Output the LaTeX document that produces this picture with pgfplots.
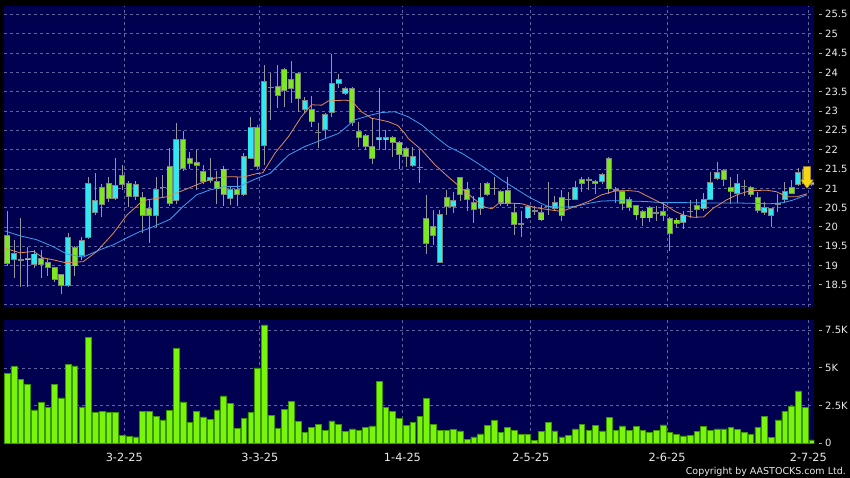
\documentclass[border=0pt]{standalone}
\usepackage{fontspec}
\setmainfont{DejaVu Sans}
\usepackage{pgfplots}
\usepackage{pgfplotstable}
\pgfplotsset{compat=1.18}
\definecolor{navy}{RGB}{0,0,80}
\definecolor{gridc}{RGB}{95,100,160}
\definecolor{cy}{RGB}{50,232,240}
\definecolor{gr}{RGB}{125,232,30}
\definecolor{edge}{RGB}{125,135,125}
\definecolor{wick}{RGB}{150,150,155}
\definecolor{vol}{RGB}{120,245,10}
\definecolor{voledge}{RGB}{60,150,0}
\definecolor{maO}{RGB}{225,140,90}
\definecolor{maB}{RGB}{60,160,240}
\definecolor{lab}{RGB}{235,235,235}
\definecolor{tickc}{RGB}{170,170,170}
\definecolor{arrowY}{RGB}{245,215,20}
\definecolor{arrowE}{RGB}{170,140,0}
\newcommand\tk{\textcolor{tickc}{\rule[3.3pt]{3pt}{0.8pt}}\hspace{3pt}}
\pgfdeclareplotmark{yarrow}{%
  \pgfpathmoveto{\pgfpoint{-3.6pt}{0pt}}%
  \pgfpathlineto{\pgfpoint{3.6pt}{0pt}}%
  \pgfpathlineto{\pgfpoint{3.6pt}{-13.3pt}}%
  \pgfpathlineto{\pgfpoint{6.2pt}{-13.3pt}}%
  \pgfpathlineto{\pgfpoint{0pt}{-21.6pt}}%
  \pgfpathlineto{\pgfpoint{-6.2pt}{-13.3pt}}%
  \pgfpathlineto{\pgfpoint{-3.6pt}{-13.3pt}}%
  \pgfpathclose
  \pgfusepathqfillstroke}

\pgfplotstableread{
i o h l c t
0 19.79 20.40 18.98 19.05 0
1 19.15 19.65 18.67 19.32 1
2 19.15 20.23 18.46 19.15 2
3 19.15 19.49 18.46 19.19 1
4 19.04 19.41 18.93 19.30 1
5 19.19 19.41 18.67 19.04 0
6 19.09 19.17 18.72 18.96 0
7 18.95 18.97 18.58 18.64 0
8 18.76 18.78 18.27 18.49 0
9 18.48 19.84 18.46 19.73 1
10 19.48 19.50 18.72 18.99 0
11 19.25 19.73 19.15 19.65 1
12 19.73 21.28 19.70 21.13 1
13 20.38 21.39 20.30 20.68 1
14 21.03 21.10 20.27 20.57 0
15 21.13 21.30 20.65 20.74 0
16 20.74 21.78 20.70 21.07 1
17 21.33 21.59 20.95 21.09 0
18 21.13 21.20 20.52 20.78 0
19 20.78 21.20 20.70 21.10 1
20 20.77 20.90 19.85 20.29 0
21 20.48 20.70 19.58 20.29 0
22 20.29 21.29 20.01 20.98 1
23 21.03 21.35 20.75 21.03 2
24 21.56 22.04 20.53 20.60 0
25 20.68 22.70 20.60 22.27 1
26 22.27 22.49 21.45 21.52 0
27 21.78 21.95 21.50 21.63 0
28 21.66 21.99 20.96 21.58 0
29 21.43 21.60 21.10 21.17 0
30 21.19 21.78 21.13 21.29 1
31 21.17 21.45 20.60 20.98 0
32 21.50 21.58 20.53 20.83 0
33 20.74 21.05 20.57 20.98 1
34 20.98 21.30 20.55 20.83 0
35 20.83 21.90 20.80 21.82 1
36 21.78 22.84 21.75 22.58 1
37 22.58 22.65 21.50 21.56 0
38 22.10 24.19 21.60 23.76 1
39 23.61 23.97 22.77 23.61 2
40 23.63 24.19 23.08 23.39 0
41 24.08 24.12 23.10 23.54 0
42 23.82 24.30 23.20 23.59 0
43 23.97 24.00 22.98 23.33 0
44 23.03 23.35 22.95 23.28 1
45 23.03 23.39 22.58 22.72 0
46 22.45 22.68 22.04 22.45 2
47 22.53 22.95 22.27 22.90 1
48 22.96 24.47 22.85 23.72 1
49 23.70 23.95 23.60 23.82 1
50 23.44 23.62 23.40 23.59 1
51 23.59 23.62 22.62 22.70 0
52 22.47 22.72 22.08 22.32 0
53 22.36 22.40 22.00 22.08 0
54 22.08 22.82 21.63 21.78 0
55 22.25 23.59 21.99 22.31 1
56 22.25 22.50 21.99 22.31 1
57 22.31 22.35 21.82 22.19 0
58 22.18 22.22 21.49 21.87 0
59 22.04 22.08 21.56 21.82 0
60 21.58 22.08 21.55 21.82 1
61 21.55 21.99 21.13 21.55 2
62 20.23 20.83 19.30 19.58 0
63 20.01 20.44 19.54 19.78 0
64 19.09 20.45 19.09 20.33 1
65 20.76 20.96 20.31 20.53 0
66 20.53 20.91 20.37 20.68 1
67 21.28 21.30 20.66 20.83 0
68 20.98 21.17 20.42 20.70 0
69 20.63 20.79 20.11 20.44 0
70 20.48 21.13 20.31 20.77 1
71 21.13 21.15 20.80 20.83 0
72 21.00 21.29 20.83 21.00 2
73 20.91 20.96 20.55 20.63 0
74 20.94 21.29 20.55 20.60 0
75 20.37 20.62 19.79 20.07 0
76 20.08 20.40 19.73 20.08 2
77 20.23 20.58 20.20 20.53 1
78 20.42 20.53 20.30 20.42 2
79 20.37 20.57 20.15 20.18 0
80 20.54 21.17 20.31 20.54 2
81 20.47 20.80 20.40 20.64 1
82 20.76 20.95 20.16 20.29 0
83 20.72 20.90 20.50 20.72 2
84 20.72 21.20 20.70 21.03 1
85 21.23 21.28 20.90 21.13 0
86 21.22 21.30 20.95 21.22 2
87 21.17 21.22 20.85 21.13 0
88 21.17 21.40 21.10 21.35 1
89 21.78 21.80 20.85 20.98 0
90 20.96 21.04 20.61 20.96 2
91 20.91 20.95 20.45 20.61 0
92 20.70 20.78 20.40 20.51 0
93 20.55 20.57 20.18 20.31 0
94 20.41 20.45 20.03 20.23 0
95 20.50 20.55 20.12 20.23 0
96 20.37 20.55 20.15 20.37 2
97 20.40 20.63 20.16 20.29 0
98 20.21 20.25 19.39 19.82 0
99 20.18 20.22 19.97 20.08 0
100 20.11 20.40 19.95 20.31 1
101 20.40 20.70 20.23 20.40 2
102 20.55 20.72 20.23 20.46 0
103 20.47 20.88 20.40 20.72 1
104 20.72 21.41 20.70 21.15 1
105 21.26 21.67 21.22 21.40 1
106 21.47 21.50 21.05 21.22 0
107 21.02 21.28 20.60 20.91 0
108 20.87 21.38 20.61 21.13 1
109 21.06 21.22 20.80 21.06 2
110 21.02 21.05 20.78 20.83 0
111 20.77 20.90 20.35 20.42 0
112 20.37 20.65 20.30 20.51 1
113 20.29 20.50 20.01 20.47 1
114 20.60 20.85 20.38 20.60 2
115 20.72 21.15 20.62 20.91 1
116 21.02 21.22 20.85 20.87 0
117 21.09 21.52 21.05 21.41 1
118 21.50 21.55 21.05 21.12 0
119 21.15 21.20 21.05 21.10 0
}\candles

\pgfplotstableread{
i v
0 4.65
1 5.08
2 4.25
3 3.91
4 2.21
5 2.70
6 2.36
7 3.91
8 3.01
9 5.24
10 5.13
11 2.41
12 7.05
13 2.03
14 2.14
15 2.05
16 2.05
17 0.55
18 0.46
19 0.42
20 2.12
21 2.12
22 1.81
23 1.55
24 2.17
25 6.32
26 2.74
27 1.41
28 2.14
29 1.75
30 1.61
31 2.21
32 3.14
33 2.67
34 0.97
35 1.66
36 2.03
37 5.00
38 7.85
39 1.83
40 1.01
41 2.25
42 2.76
43 1.46
44 0.73
45 1.04
46 1.26
47 0.88
48 1.48
49 1.26
50 0.80
51 0.95
52 0.88
53 1.04
54 1.15
55 4.09
56 2.36
57 2.14
58 1.66
59 1.17
60 1.37
61 1.77
62 2.99
63 1.26
64 0.88
65 0.88
66 0.93
67 0.82
68 0.27
69 0.42
70 0.62
71 1.19
72 1.50
73 0.73
74 1.08
75 0.86
76 0.60
77 0.60
78 0.17
79 0.80
80 1.37
81 0.82
82 0.42
83 0.50
84 0.95
85 1.26
86 0.86
87 1.17
88 0.82
89 1.72
90 0.84
91 1.15
92 0.88
93 1.10
94 0.84
95 0.73
96 0.88
97 1.22
98 0.71
99 0.60
100 0.49
101 0.55
102 0.77
103 1.10
104 0.84
105 0.95
106 0.95
107 1.04
108 0.93
109 0.71
110 0.60
111 1.08
112 1.81
113 0.37
114 1.55
115 2.14
116 2.43
117 3.47
118 2.36
119 0.22
}\volume

\begin{document}
\begin{tikzpicture}
\useasboundingbox (0,0) rectangle (850pt,478pt);
\fill[black] (0,0) rectangle (850pt,478pt);

\begin{axis}[
  at={(4pt,171pt)}, anchor=south west,
  width=810pt, height=301pt, scale only axis,
  xmin=-0.49, xmax=119.33, ymin=17.93, ymax=25.715,
  axis background/.style={fill=navy},
  axis line style={draw=none},
  xtick={17.3,37.35,58.45,77.43,97.6,118.5}, xticklabels={},
  ytick={18,18.5,19,19.5,20,20.5,21,21.5,22,22.5,23,23.5,24,24.5,25,25.5},
  yticklabels={{},\tk 18.5,\tk 19,\tk 19.5,\tk 20,\tk 20.5,\tk 21,\tk 21.5,\tk 22,\tk 22.5,\tk 23,\tk 23.5,\tk 24,\tk 24.5,\tk 25,\tk 25.5},
  yticklabel pos=right,
  major tick length=0pt,
  grid=major,
  major grid style={gridc, dash pattern=on 3pt off 3pt, line width=0.7pt},
  yticklabel style={anchor=west, inner sep=0pt, xshift=5pt, font=\fontsize{10}{12}\selectfont, text=lab},
]
% wicks
\addplot[draw=none, mark=none, forget plot,
  error bars/.cd, y dir=both, y explicit, error mark=none,
  error bar style={line width=1pt, draw=wick}]
  table[x=i, y expr={(\thisrow{h}+\thisrow{l})/2}, y error expr={(\thisrow{h}-\thisrow{l})/2}] {\candles};
% body outlines
\addplot[draw=none, mark=none, forget plot,
  error bars/.cd, y dir=both, y explicit, error mark=none,
  error bar style={line width=6pt, draw=edge}]
  table[x=i, y expr={(\thisrow{o}+\thisrow{c})/2}, y error expr={abs(\thisrow{c}-\thisrow{o})/2+0.011}] {\candles};
% cyan bodies (t = 1)
\addplot[draw=none, mark=none, forget plot,
  error bars/.cd, y dir=both, y explicit, error mark=none,
  error bar style={line width=4.4pt, draw=cy}]
  table[x=i, y expr={(\thisrow{o}+\thisrow{c})/2}, y error expr={(\thisrow{t}==1)*max(abs(\thisrow{c}-\thisrow{o})/2-0.012,0)}] {\candles};
% green bodies (t = 0)
\addplot[draw=none, mark=none, forget plot,
  error bars/.cd, y dir=both, y explicit, error mark=none,
  error bar style={line width=4.4pt, draw=gr}]
  table[x=i, y expr={(\thisrow{o}+\thisrow{c})/2}, y error expr={(\thisrow{t}==0)*max(abs(\thisrow{c}-\thisrow{o})/2-0.012,0)}] {\candles};
% moving averages
\addplot[maB, line width=0.8pt, mark=none] coordinates {
(-0.4,19.90) (1.9,19.77) (4.35,19.67) (6.8,19.49) (8.8,19.30) (11.2,19.22) (13.7,19.41) (15.7,19.54) (17.7,19.72) (19.6,19.88)
(21.1,19.97) (24.1,20.20) (26,20.53) (28,20.83) (30,20.96) (32,21.04) (34.4,21.05) (36.4,21.22) (38.9,21.39)
(41.6,21.86) (44,22.08) (46.5,22.25) (49,22.42) (51.4,22.77) (53.9,22.90) (55.4,22.96) (57.3,22.98) (59.3,22.85)
(61.3,22.64) (63.3,22.34) (65.2,22.08) (67.2,21.91) (69.2,21.69) (71.2,21.46) (73.1,21.22) (75.1,21.00) (77.1,20.78)
(79.1,20.60) (80,20.53) (82,20.51) (84,20.53) (86,20.61) (87.9,20.67) (89.9,20.68) (91.9,20.67) (94.3,20.66)
(96.8,20.63) (100.2,20.63) (103,20.62) (108,20.62) (112.8,20.60) (114.8,20.63) (116.3,20.70) (118.3,20.83)};
\addplot[maO, line width=0.8pt, mark=none] coordinates {
(-0.4,19.45) (1.9,19.33) (3.9,19.37) (5.3,19.20) (6.8,19.15) (8.5,19.08) (11.2,19.10) (13.2,19.36) (15.7,19.84) (17.7,20.31)
(19.6,20.61) (20.6,20.70) (23.6,20.78) (25.5,20.91) (28,21.09) (30.5,21.26) (32.9,21.30) (34.9,21.29) (36.9,21.38) (37.8,21.40)
(39.6,21.91) (41.6,22.34) (43.5,22.85) (45,23.16) (46.5,23.15) (47.5,23.26) (50,23.28) (51,23.25) (52.4,22.98) (53.9,22.81)
(54.9,22.78) (56.4,22.72) (57.8,22.62) (58.8,22.42) (59.3,22.29) (61.3,21.99) (63.3,21.60) (65.2,21.30) (67.2,21.00)
(69.2,20.70) (70.7,20.51) (71.7,20.47) (72.6,20.60) (74.1,20.62) (76.1,20.60) (78.1,20.50) (80,20.45) (82,20.40)
(84,20.53) (86,20.66) (87.9,20.83) (89.9,20.93) (91.9,20.94) (93.3,20.92) (95.3,20.74) (97.3,20.57) (98.8,20.40)
(100,20.31) (101.5,20.25) (103,20.26) (104.4,20.48) (106.4,20.70) (107.9,20.83) (109.9,20.94) (112.3,20.95)
(113.8,20.91) (115.3,20.78) (116.8,20.78) (118.3,20.86)};
% last-price marker
\addplot[only marks, mark=yarrow, mark options={fill=arrowY, draw=arrowE, line width=0.5pt}] coordinates {(118.3,21.56)};
\end{axis}

\begin{axis}[
  at={(4pt,34.7pt)}, anchor=south west,
  width=810pt, height=123.6pt, scale only axis,
  xmin=-0.49, xmax=119.33, ymin=0, ymax=8.2,
  axis background/.style={fill=navy},
  axis line style={draw=none},
  xtick={17.3,37.35,58.45,77.43,97.6,118.5},
  xticklabels={3-2-25,3-3-25,1-4-25,2-5-25,2-6-25,2-7-25},
  ytick={0,2.5,5,7.5},
  yticklabels={\tk 0,\tk 2.5K,\tk 5K,\tk 7.5K},
  yticklabel pos=right,
  major tick length=0pt,
  grid=major,
  major grid style={gridc, dash pattern=on 3pt off 3pt, line width=0.7pt},
  yticklabel style={anchor=west, inner sep=0pt, xshift=5pt, font=\fontsize{10}{12}\selectfont, text=lab},
  xticklabel style={anchor=north, inner sep=0pt, yshift=-10pt, font=\fontsize{11.3}{13}\selectfont, text=lab},
]
\addplot[ybar, bar width=5.7pt, fill=vol, draw=voledge, line width=0.6pt] table[x=i, y=v] {\volume};
\end{axis}

\node[anchor=base east, inner sep=0pt, font=\fontsize{9.5}{11}\selectfont, text=lab] at (846pt,3.7pt) {Copyright by AASTOCKS.com Ltd.};
\end{tikzpicture}
\end{document}
